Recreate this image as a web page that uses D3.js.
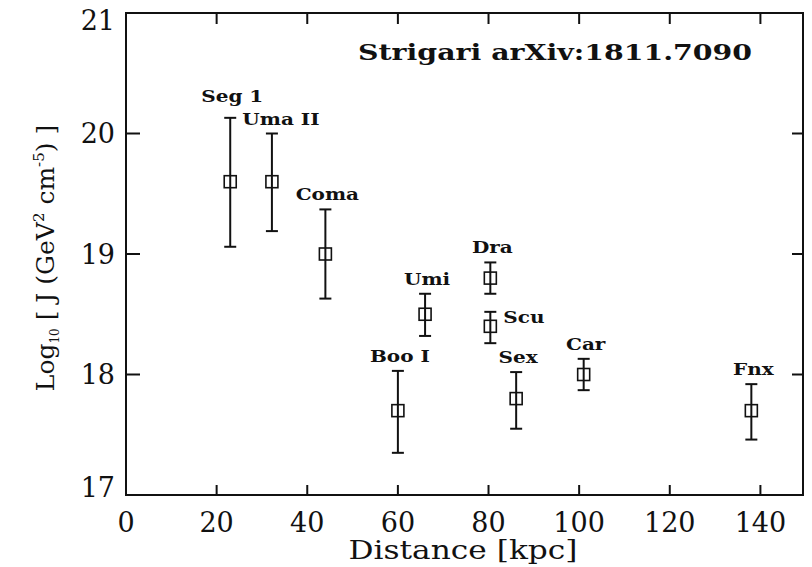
<!DOCTYPE html>
<html>
<head>
<meta charset="utf-8">
<script src="https://cdn.jsdelivr.net/npm/d3@7"></script>
<style>
  body { margin: 0; background: #fff; }
  text { font-family: "DejaVu Serif", serif; fill: #111; }
</style>
</head>
<body>
<svg width="812" height="567"></svg>
<script>
// dwarf galaxies: distance [kpc], log10 J, error bar ends
var names    = ["Seg 1", "Uma II", "Coma", "Boo I", "Umi", "Dra", "Scu", "Sex", "Car", "Fnx"];
var distance = [23, 32.2, 44, 60, 66, 80.4, 80.4, 86.1, 101, 138];
var logJ     = [19.6, 19.6, 19.0, 17.7, 18.5, 18.8, 18.4, 17.8, 18.0, 17.7];
var errHigh  = [20.13, 20.0, 19.37, 18.03, 18.67, 18.93, 18.52, 18.02, 18.13, 17.92];
var errLow   = [19.06, 19.19, 18.63, 17.35, 18.32, 18.67, 18.26, 17.55, 17.87, 17.46];
var labelSide = ["high", "aboveright", "above", "above", "above", "above", "right", "above", "above", "above"];

var xTicks = [0, 20, 40, 60, 80, 100, 120, 140];
var yTicks = [17, 18, 19, 20, 21];

var svg = d3.select("svg"),
    x0 = 126, x1 = 803, y0 = 13, y1 = 495;

var x = d3.scaleLinear().domain([0, 149.4]).range([x0, x1]);
var y = d3.scaleLinear().domain([17, 21]).range([y1, y0]);

var g = svg.append("g");

// frame
g.append("rect")
  .attr("x", x0).attr("y", y0)
  .attr("width", x1 - x0).attr("height", y1 - y0)
  .attr("fill", "none").attr("stroke", "#111").attr("stroke-width", 2);

// ticks on all four sides
g.selectAll(".xtb").data(xTicks.slice(1)).enter().append("line")
  .attr("x1", d => x(d)).attr("x2", d => x(d))
  .attr("y1", y1).attr("y2", y1 - 10)
  .attr("stroke", "#111").attr("stroke-width", 2);
g.selectAll(".xtt").data(xTicks.slice(1)).enter().append("line")
  .attr("x1", d => x(d)).attr("x2", d => x(d))
  .attr("y1", y0).attr("y2", y0 + 11)
  .attr("stroke", "#111").attr("stroke-width", 2);
g.selectAll(".ytl").data(yTicks.slice(1, -1)).enter().append("line")
  .attr("x1", x0).attr("x2", x0 + 14)
  .attr("y1", d => y(d)).attr("y2", d => y(d))
  .attr("stroke", "#111").attr("stroke-width", 2);
g.selectAll(".ytr").data(yTicks.slice(1, -1)).enter().append("line")
  .attr("x1", x1).attr("x2", x1 - 11)
  .attr("y1", d => y(d)).attr("y2", d => y(d))
  .attr("stroke", "#111").attr("stroke-width", 2);

// tick labels
g.selectAll(".xl").data(xTicks).enter().append("text")
  .attr("x", d => x(d)).attr("y", 532)
  .attr("text-anchor", "middle")
  .style("font-size", "27px")
  .text(d => d);
g.selectAll(".yl").data(yTicks).enter().append("text")
  .attr("x", 115)
  .attr("y", d => Math.min(Math.max(y(d), y0 + 7), y1 - 8))
  .attr("dy", "0.36em")
  .attr("text-anchor", "end")
  .style("font-size", "27px")
  .text(d => d);

// axis titles
svg.append("text")
  .attr("x", 463).attr("y", 559)
  .attr("text-anchor", "middle")
  .attr("textLength", 229).attr("lengthAdjust", "spacingAndGlyphs")
  .style("font-size", "26px")
  .text("Distance [kpc]");

var yt = svg.append("text")
  .attr("transform", "translate(54," + 258 + ") rotate(-90)")
  .attr("text-anchor", "middle")
  .style("font-size", "25px");
yt.append("tspan").text("Log");
yt.append("tspan").attr("dy", 5).style("font-size", "12px").text("10");
yt.append("tspan").attr("dy", -5).text(" [ J (GeV");
yt.append("tspan").attr("dy", -10).style("font-size", "15px").text("2");
yt.append("tspan").attr("dy", 10).text(" cm");
yt.append("tspan").attr("dy", -10).style("font-size", "15px").text("-5");
yt.append("tspan").attr("dy", 10).text(") ]");

// annotation
svg.append("text")
  .attr("x", 358).attr("y", 60)
  .attr("textLength", 394).attr("lengthAdjust", "spacingAndGlyphs")
  .style("font-size", "23px").style("font-weight", "bold")
  .text("Strigari arXiv:1811.7090");

// points with error bars
var pts = g.selectAll(".pt").data(names).enter().append("g");

pts.append("line")
  .attr("x1", (d, i) => x(distance[i])).attr("x2", (d, i) => x(distance[i]))
  .attr("y1", (d, i) => y(errLow[i])).attr("y2", (d, i) => y(errHigh[i]))
  .attr("stroke", "#111").attr("stroke-width", 2);
pts.append("line")
  .attr("x1", (d, i) => x(distance[i]) - 6).attr("x2", (d, i) => x(distance[i]) + 6)
  .attr("y1", (d, i) => y(errLow[i])).attr("y2", (d, i) => y(errLow[i]))
  .attr("stroke", "#111").attr("stroke-width", 2);
pts.append("line")
  .attr("x1", (d, i) => x(distance[i]) - 6).attr("x2", (d, i) => x(distance[i]) + 6)
  .attr("y1", (d, i) => y(errHigh[i])).attr("y2", (d, i) => y(errHigh[i]))
  .attr("stroke", "#111").attr("stroke-width", 2);
pts.append("rect")
  .attr("x", (d, i) => x(distance[i]) - 6).attr("y", (d, i) => y(logJ[i]) - 6)
  .attr("width", 12).attr("height", 12)
  .attr("fill", "none").attr("stroke", "#111").attr("stroke-width", 1.6);

// labels, stretched sideways a little like the original typeface
pts.append("text")
  .attr("transform", function(d, i) {
    var lx = x(distance[i]) + 2, ly = y(errHigh[i]) - 9;
    if (labelSide[i] == "right") { lx = x(distance[i]) + 13; ly = y(logJ[i]) - 3; }
    else if (labelSide[i] == "high") { ly = y(errHigh[i]) - 16; }
    else if (labelSide[i] == "aboveright") { lx = x(distance[i]) + 9; }
    return "translate(" + lx + "," + ly + ") scale(1.25,1)";
  })
  .attr("text-anchor", (d, i) => labelSide[i] == "right" ? "start" : "middle")
  .style("font-size", "16px").style("font-weight", "bold")
  .text(d => d);
</script>
</body>
</html>
